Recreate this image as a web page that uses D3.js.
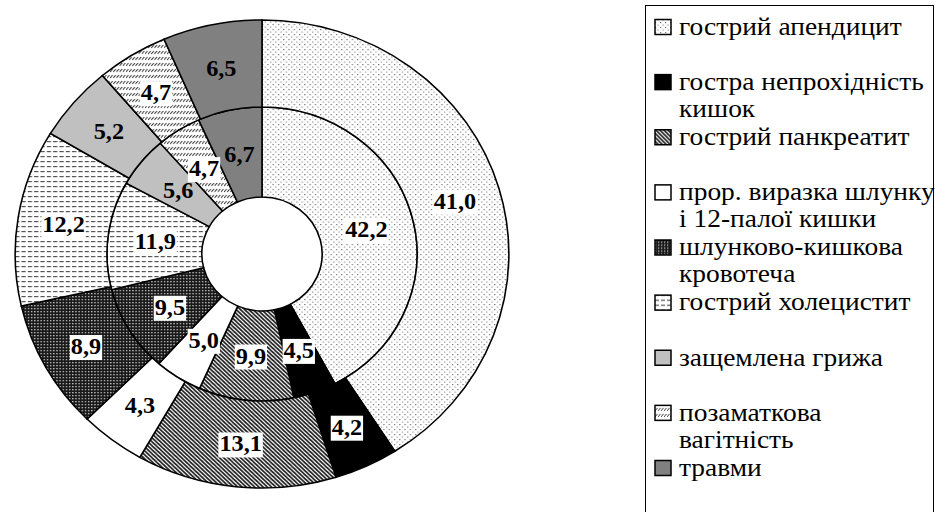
<!DOCTYPE html>
<html>
<head>
<meta charset="utf-8">
<script src="https://cdn.jsdelivr.net/npm/d3@7"></script>
</head>
<body style="margin:0">
<script>
// categories and the two rings (inner / outer)
var categories = ["гострий апендицит", "гостра непрохідність кишок", "гострий панкреатит",
  "прор. виразка шлунку і 12-палої кишки", "шлунково-кишкова кровотеча", "гострий холецистит",
  "защемлена грижа", "позаматкова вагітність", "травми"];
var legendLines = [["гострий апендицит"], ["гостра непрохідність", "кишок"], ["гострий панкреатит"],
  ["прор. виразка шлунку", "і 12-палої кишки"], ["шлунково-кишкова", "кровотеча"], ["гострий холецистит"],
  ["защемлена грижа"], ["позаматкова", "вагітність"], ["травми"]];
var innerValues = [42.2, 4.5, 9.9, 5.0, 9.5, 11.9, 5.6, 4.7, 6.7];
var outerValues = [41.0, 4.2, 13.1, 4.3, 8.9, 12.2, 5.2, 4.7, 6.5];
var fills = ["url(#pDots)", "#000", "url(#pDiag)", "#fff", "url(#pCheck)", "url(#pDash)", "#c0c0c0", "url(#pSlash)", "#808080"];
var boxed = [true, true, true, true, true, true, false, true, false];

var w = 935, h = 512;
var sx = 1.055; // picture is slightly stretched horizontally
var svg = d3.select("body").append("svg").attr("width", w).attr("height", h);
var defs = svg.append("defs");

// patterns
var p = defs.append("pattern").attr("id", "pDots").attr("patternUnits", "userSpaceOnUse").attr("width", 5).attr("height", 5);
p.append("rect").attr("width", 5).attr("height", 5).attr("fill", "#fff");
p.append("rect").attr("x", 0).attr("y", 0).attr("width", 1.2).attr("height", 1.2).attr("fill", "#777");
p.append("rect").attr("x", 2.5).attr("y", 2.5).attr("width", 1.2).attr("height", 1.2).attr("fill", "#999");

p = defs.append("pattern").attr("id", "pDiag").attr("patternUnits", "userSpaceOnUse").attr("width", 4).attr("height", 4);
p.append("rect").attr("width", 4).attr("height", 4).attr("fill", "#fff");
p.append("path").attr("d", "M-1,-1L5,5M-1,3L1,5M3,-1L5,1").attr("stroke", "#222").attr("stroke-width", 1.6);

p = defs.append("pattern").attr("id", "pCheck").attr("patternUnits", "userSpaceOnUse").attr("width", 3).attr("height", 3);
p.append("rect").attr("width", 3).attr("height", 3).attr("fill", "#1a1a1a");
p.append("rect").attr("x", 0).attr("y", 0).attr("width", 1.3).attr("height", 1.3).attr("fill", "#bbb");

p = defs.append("pattern").attr("id", "pDash").attr("patternUnits", "userSpaceOnUse").attr("width", 6).attr("height", 5);
p.append("rect").attr("width", 6).attr("height", 5).attr("fill", "#fff");
p.append("rect").attr("x", 0).attr("y", 2).attr("width", 4).attr("height", 1.2).attr("fill", "#555");

p = defs.append("pattern").attr("id", "pSlash").attr("patternUnits", "userSpaceOnUse").attr("width", 3).attr("height", 6);
p.append("rect").attr("width", 3).attr("height", 6).attr("fill", "#fff");
p.append("path").attr("d", "M0,4L2.5,1").attr("stroke", "#333").attr("stroke-width", 1);

// stretch a text horizontally by sx without transforming it
function stretch(t) {
  var len = t.node().getComputedTextLength();
  t.attr("textLength", len * sx).attr("lengthAdjust", "spacingAndGlyphs");
}

var cx = 262, cy = 254;
var rHole = 57, rMid = 147, rOut = 234;

var pie = d3.pie().sort(null).value(function(d){ return d; });
var innerArc = d3.arc().innerRadius(rHole).outerRadius(rMid);
var outerArc = d3.arc().innerRadius(rMid).outerRadius(rOut);

var g = svg.append("g").attr("transform", "translate(" + cx + "," + cy + ") scale(" + sx + ",1)");
var lbl = svg.append("g").attr("transform", "translate(" + cx + "," + cy + ")");

function ring(values, arc, cls) {
  var arcs = pie(values);
  g.selectAll("path." + cls)
    .data(arcs)
    .enter()
    .append("path")
    .attr("class", cls)
    .attr("d", arc)
    .attr("fill", function(d, i){ return fills[i]; })
    .attr("stroke", "#000")
    .attr("stroke-width", 1.5);
  return arcs;
}
var innerArcs = ring(innerValues, innerArc, "inner");
var outerArcs = ring(outerValues, outerArc, "outer");

function labels(arcs, arc) {
  arcs.forEach(function(d, i){
    var c = arc.centroid(d);
    var lg = lbl.append("g").attr("transform", "translate(" + (c[0] * sx) + "," + c[1] + ")");
    var t = lg.append("text")
      .attr("font-family", "Liberation Serif")
      .attr("font-weight", "bold")
      .attr("font-size", 23)
      .attr("text-anchor", "middle")
      .attr("dy", "0.35em")
      .text(d3.format(".1f")(d.data).replace(".", ","));
    stretch(t);
    if (boxed[i]) {
      var b = t.node().getBBox();
      lg.insert("rect", "text")
        .attr("x", b.x - 1).attr("y", b.y + 1)
        .attr("width", b.width + 2).attr("height", b.height)
        .attr("fill", "#fff");
    }
  });
}
labels(innerArcs, innerArc);
labels(outerArcs, outerArc);

// legend
svg.append("rect")
  .attr("x", 645.5).attr("y", 5.5)
  .attr("width", 933 - 645).attr("height", 530)
  .attr("fill", "none").attr("stroke", "#000").attr("stroke-width", 1);

var legY = d3.scalePoint().domain(categories).range([27, 468]);
var item = svg.selectAll(".legItem")
  .data(categories)
  .enter()
  .append("g")
  .attr("class", "legItem")
  .attr("transform", function(d){ return "translate(655," + legY(d) + ")"; });
item.append("rect")
  .attr("x", 0).attr("y", -7.5)
  .attr("width", 16).attr("height", 15)
  .attr("fill", function(d, i){ return fills[i]; })
  .attr("stroke", "#000").attr("stroke-width", 1.5);
item.each(function(d, i){
  var sel = d3.select(this);
  legendLines[i].forEach(function(line, k){
    var t = sel.append("text")
      .attr("font-family", "Liberation Serif")
      .attr("font-size", 26)
      .attr("x", 24)
      .attr("y", k * 27)
      .attr("dy", "0.3em")
      .text(line);
    stretch(t);
  });
});
</script>
</body>
</html>
